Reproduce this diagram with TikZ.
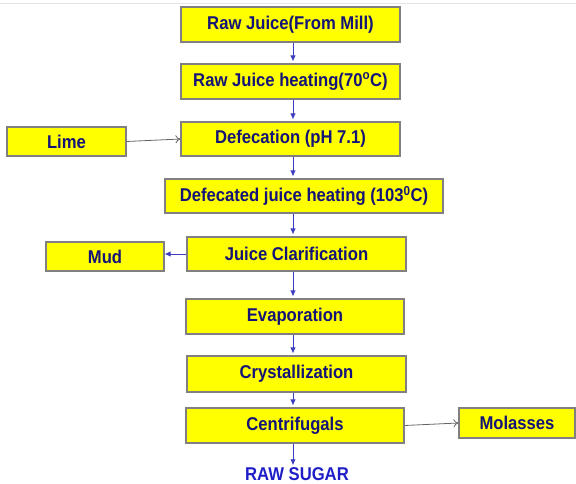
\documentclass[tikz,border=0pt]{standalone}
\usepackage{fontspec}
\setmainfont{Liberation Sans}[FakeStretch=0.9]
\usetikzlibrary{arrows.meta}
\definecolor{boxyellow}{RGB}{255,255,0}
\definecolor{boxborder}{RGB}{128,128,128}
\definecolor{navytext}{RGB}{20,20,120}
\definecolor{sugarblue}{RGB}{30,30,200}
\definecolor{flowblue}{RGB}{60,60,190}
\definecolor{sidegray}{RGB}{100,100,100}
\tikzset{
  procbox/.style={draw=boxborder, line width=1.1pt, fill=boxyellow, inner sep=0pt,
    text=navytext, font=\fontsize{18.5}{21}\selectfont\bfseries, anchor=center},
  flow/.style={draw=flowblue, line width=0.9pt, -{Latex[length=6pt,width=5.5pt]}, shorten >=2pt},
  sideflow/.style={draw=sidegray, line width=0.8pt, -{To[length=5pt,width=8pt]}}
}
\begin{document}
\begin{tikzpicture}[x=1pt,y=-1pt]
\useasboundingbox (0,0) rectangle (576,484);
\draw[gray!20, line width=0.8pt] (0,3) -- (576,3);
\coordinate (ax) at (293,0);
\node[procbox, minimum width=219pt, minimum height=35pt] (b1) at (290.5,24.5) {Raw Juice(From Mill)};
\node[procbox, minimum width=219pt, minimum height=35pt] (b2) at (290.5,81.5) {Raw Juice heating(70\textsuperscript{o}C)};
\node[procbox, minimum width=219pt, minimum height=34pt] (b3) at (290.5,139) {Defecation (pH 7.1)};
\node[procbox, minimum width=119pt, minimum height=29pt] (lime) at (66.5,141.5) {Lime};
\node[procbox, minimum width=278pt, minimum height=34pt] (b4) at (304,196) {Defecated juice heating (103\textsuperscript{0}C)};
\node[procbox, minimum width=219pt, minimum height=34pt] (b5) at (296.5,254) {Juice Clarification};
\node[procbox, minimum width=118pt, minimum height=29pt] (mud) at (105,256.5) {Mud};
\node[procbox, minimum width=218pt, minimum height=35pt] (b6) at (295,316.5) {Evaporation};
\node[procbox, minimum width=219pt, minimum height=36pt] (b7) at (296.5,374) {Crystallization};
\node[procbox, minimum width=218pt, minimum height=35pt] (b8) at (295,425.5) {Centrifugals};
\node[procbox, minimum width=116pt, minimum height=30pt] (mol) at (517,423) {Molasses};
\node[text=sugarblue, font=\fontsize{18.5}{21}\selectfont\bfseries, inner sep=0pt] (sugar) at (297,474) {RAW SUGAR};

\draw[flow] (b1.south -| ax) -- (b2.north -| ax);
\draw[flow] (b2.south -| ax) -- (b3.north -| ax);
\draw[flow] (b3.south -| ax) -- (b4.north -| ax);
\draw[flow] (b4.south -| ax) -- (b5.north -| ax);
\draw[flow] (b5.south -| ax) -- (b6.north -| ax);
\draw[flow] (b6.south -| ax) -- (b7.north -| ax);
\draw[flow] (b7.south -| ax) -- (b8.north -| ax);
\draw[flow] (b8.south -| ax) -- (sugar.north -| ax);
\draw[flow, shorten >=0pt] (b5.west |- 0,254) -- (mud.east |- 0,254);
\draw[sideflow] (lime.east) -- (b3.west);
\draw[sideflow] (b8.east) -- (mol.west);
\end{tikzpicture}
\end{document}
